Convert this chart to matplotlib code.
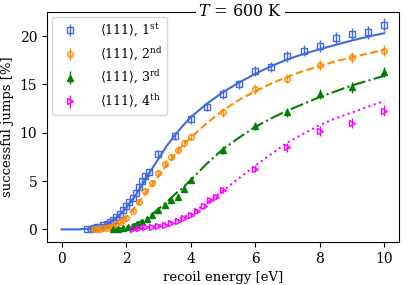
import numpy as np
import matplotlib
matplotlib.use("Agg")
import matplotlib.pyplot as plt

plt.rcParams['font.family'] = 'serif'
plt.rcParams['font.serif'] = ['DejaVu Serif']
plt.rcParams['mathtext.fontset'] = 'dejavuserif'

# measured points (recoil energy [eV], successful jumps [%], error)
e1 = [0.8, 0.9, 1.0, 1.1, 1.2, 1.3, 1.4, 1.5, 1.6, 1.7, 1.8, 1.9, 2.0, 2.1, 2.2, 2.3, 2.4, 2.5, 2.6, 2.7,
      3.0, 3.5, 4.0, 4.5, 5.0, 5.5, 6.0, 6.5, 7.0, 7.5, 8.0, 8.5, 9.0, 9.5, 10.0]
j1 = [0.0, 0.05, 0.1, 0.2, 0.3, 0.45, 0.6, 0.8, 1.0, 1.3, 1.6, 2.0, 2.4, 2.8, 3.3, 3.8, 4.4, 5.0, 5.5, 5.9,
      7.8, 9.7, 11.4, 12.7, 14.0, 15.0, 16.4, 16.8, 17.9, 18.5, 19.0, 19.8, 20.2, 20.4, 21.2]
s1 = [0.1, 0.1, 0.1, 0.1, 0.1, 0.15, 0.15, 0.2, 0.2, 0.2, 0.2, 0.25, 0.25, 0.25, 0.3, 0.3, 0.3, 0.3, 0.35, 0.35,
      0.4, 0.4, 0.45, 0.45, 0.5, 0.5, 0.5, 0.55, 0.55, 0.55, 0.6, 0.6, 0.6, 0.65, 0.7]

e2 = [1.0, 1.1, 1.2, 1.3, 1.4, 1.5, 1.6, 1.7, 1.8, 1.9, 2.0, 2.2, 2.4, 2.6, 2.8, 3.0, 3.2, 3.4, 3.6, 3.8, 4.0,
      5.0, 6.0, 7.0, 8.0, 9.0, 10.0]
j2 = [0.0, 0.0, 0.05, 0.1, 0.15, 0.25, 0.4, 0.55, 0.75, 0.95, 1.2, 1.9, 2.8, 4.0, 4.8, 5.8, 6.8, 7.5, 8.2, 8.9, 9.6,
      12.1, 14.5, 15.6, 17.0, 17.8, 18.5]
s2 = [0.1, 0.1, 0.1, 0.1, 0.1, 0.15, 0.15, 0.15, 0.2, 0.2, 0.2, 0.25, 0.25, 0.3, 0.3, 0.35, 0.35, 0.35, 0.4, 0.4, 0.4,
      0.45, 0.5, 0.5, 0.55, 0.55, 0.6]

e3 = [1.6, 1.75, 1.9, 2.05, 2.2, 2.35, 2.5, 2.65, 2.8, 3.0, 3.2, 3.4, 3.6, 3.8, 4.0,
      5.0, 6.0, 7.0, 8.0, 9.0, 10.0]
j3 = [0.0, 0.05, 0.15, 0.25, 0.4, 0.6, 0.8, 1.1, 1.5, 2.0, 2.5, 3.0, 3.4, 4.2, 5.1,
      8.2, 10.7, 12.1, 14.0, 14.7, 16.3]
s3 = [0.1, 0.1, 0.1, 0.1, 0.1, 0.15, 0.15, 0.15, 0.2, 0.2, 0.25, 0.25, 0.3, 0.3, 0.3,
      0.4, 0.45, 0.5, 0.5, 0.55, 0.55]

e4 = [2.2, 2.4, 2.6, 2.8, 3.0, 3.2, 3.4, 3.6, 3.8, 4.0, 4.2, 4.4, 4.6, 4.8, 5.0,
      6.0, 7.0, 8.0, 9.0, 10.0]
j4 = [0.0, 0.1, 0.2, 0.3, 0.4, 0.5, 0.7, 0.9, 1.2, 1.5, 1.9, 2.4, 3.0, 3.4, 4.1,
      6.3, 8.5, 10.2, 11.0, 12.3]
s4 = [0.1, 0.1, 0.1, 0.1, 0.1, 0.1, 0.15, 0.15, 0.15, 0.2, 0.2, 0.25, 0.25, 0.3, 0.3,
      0.4, 0.45, 0.5, 0.5, 0.55]

# fitted curves
fe1 = [0.0, 0.5, 1.0, 1.25, 1.5, 1.75, 2.0, 2.25, 2.5, 2.75, 3.0, 3.25, 3.5, 3.75, 4.0, 4.5, 5.0, 5.5, 6.0,
       6.5, 7.0, 7.5, 8.0, 8.5, 9.0, 9.5, 10.0]
fj1 = [0.0, 0.0, 0.1, 0.3, 0.7, 1.3, 2.2, 3.3, 4.6, 6.0, 7.3, 8.6, 9.7, 10.7, 11.6, 13.0, 14.2, 15.2, 16.1,
       16.9, 17.6, 18.15, 18.65, 19.1, 19.55, 19.95, 20.3]

fe2 = [0.9, 1.25, 1.5, 1.75, 2.0, 2.25, 2.5, 2.75, 3.0, 3.25, 3.5, 3.75, 4.0, 4.5, 5.0, 5.5, 6.0,
       6.5, 7.0, 7.5, 8.0, 8.5, 9.0, 9.5, 10.0]
fj2 = [0.0, 0.1, 0.3, 0.7, 1.3, 2.2, 3.3, 4.4, 5.5, 6.6, 7.7, 8.7, 9.5, 11.0, 12.3, 13.4, 14.3,
       15.1, 15.8, 16.4, 16.9, 17.4, 17.8, 18.2, 18.6]

fe3 = [1.5, 1.75, 2.0, 2.25, 2.5, 2.75, 3.0, 3.25, 3.5, 3.75, 4.0, 4.5, 5.0, 5.5, 6.0,
       6.5, 7.0, 7.5, 8.0, 8.5, 9.0, 9.5, 10.0]
fj3 = [0.0, 0.05, 0.2, 0.5, 0.9, 1.4, 2.1, 2.8, 3.6, 4.3, 5.1, 6.8, 8.3, 9.5, 10.6,
       11.5, 12.3, 13.0, 13.7, 14.3, 14.9, 15.4, 15.9]

fe4 = [2.0, 2.5, 3.0, 3.5, 4.0, 4.5, 5.0, 5.5, 6.0, 6.5, 7.0, 7.5, 8.0, 8.5, 9.0, 9.5, 10.0]
fj4 = [0.0, 0.15, 0.4, 0.9, 1.6, 2.7, 4.0, 5.3, 6.6, 7.8, 9.0, 9.9, 10.8, 11.5, 12.1, 12.7, 13.3]

labels = [r'$\langle 111\rangle$, 1$^{\rm st}$', r'$\langle 111\rangle$, 2$^{\rm nd}$',
          r'$\langle 111\rangle$, 3$^{\rm rd}$', r'$\langle 111\rangle$, 4$^{\rm th}$']
colors = ['royalblue', 'darkorange', 'green', 'magenta']
markers = ['s', 'o', '^', '>']
faces = ['none', 'none', 'green', 'none']
styles = ['-', '--', '-.', ':']

points = [(e1, j1, s1), (e2, j2, s2), (e3, j3, s3), (e4, j4, s4)]
fits = [(fe1, fj1), (fe2, fj2), (fe3, fj3), (fe4, fj4)]

fig = plt.figure(figsize=(4.07, 2.85), dpi=100)
ax = fig.add_axes([0.1155, 0.151, 0.8645, 0.807])

for (x, y, s), (fx, fy), c, m, fc, ls, lab in zip(points, fits, colors, markers, faces, styles, labels):
    ax.errorbar(x, y, yerr=s, fmt=m, color=c, mfc=fc, mec=c, ms=4, mew=1.0,
                elinewidth=1.0, capsize=0, label=lab)
    ax.plot(fx, fy, ls, color=c, lw=1.5)

ax.set_xlim(-0.45, 10.45)
ax.set_ylim(-1.3, 22.5)
ax.set_xticks([0, 2, 4, 6, 8, 10])
ax.set_yticks([0, 5, 10, 15, 20])
ax.tick_params(labelsize=10)
ax.set_xlabel('recoil energy [eV]', fontsize=9.5)
ax.set_ylabel('successful jumps [%]', fontsize=9.5)
ax.legend(loc='upper left', fontsize=9, handletextpad=1.4, borderaxespad=0.4)
ax.text(0.55, 1.0, r'$T$ = 600 K', transform=ax.transAxes, ha='center', va='center',
        fontsize=11.5, bbox=dict(facecolor='white', edgecolor='none', pad=1.5))

fig.savefig('out.png', dpi=100)
